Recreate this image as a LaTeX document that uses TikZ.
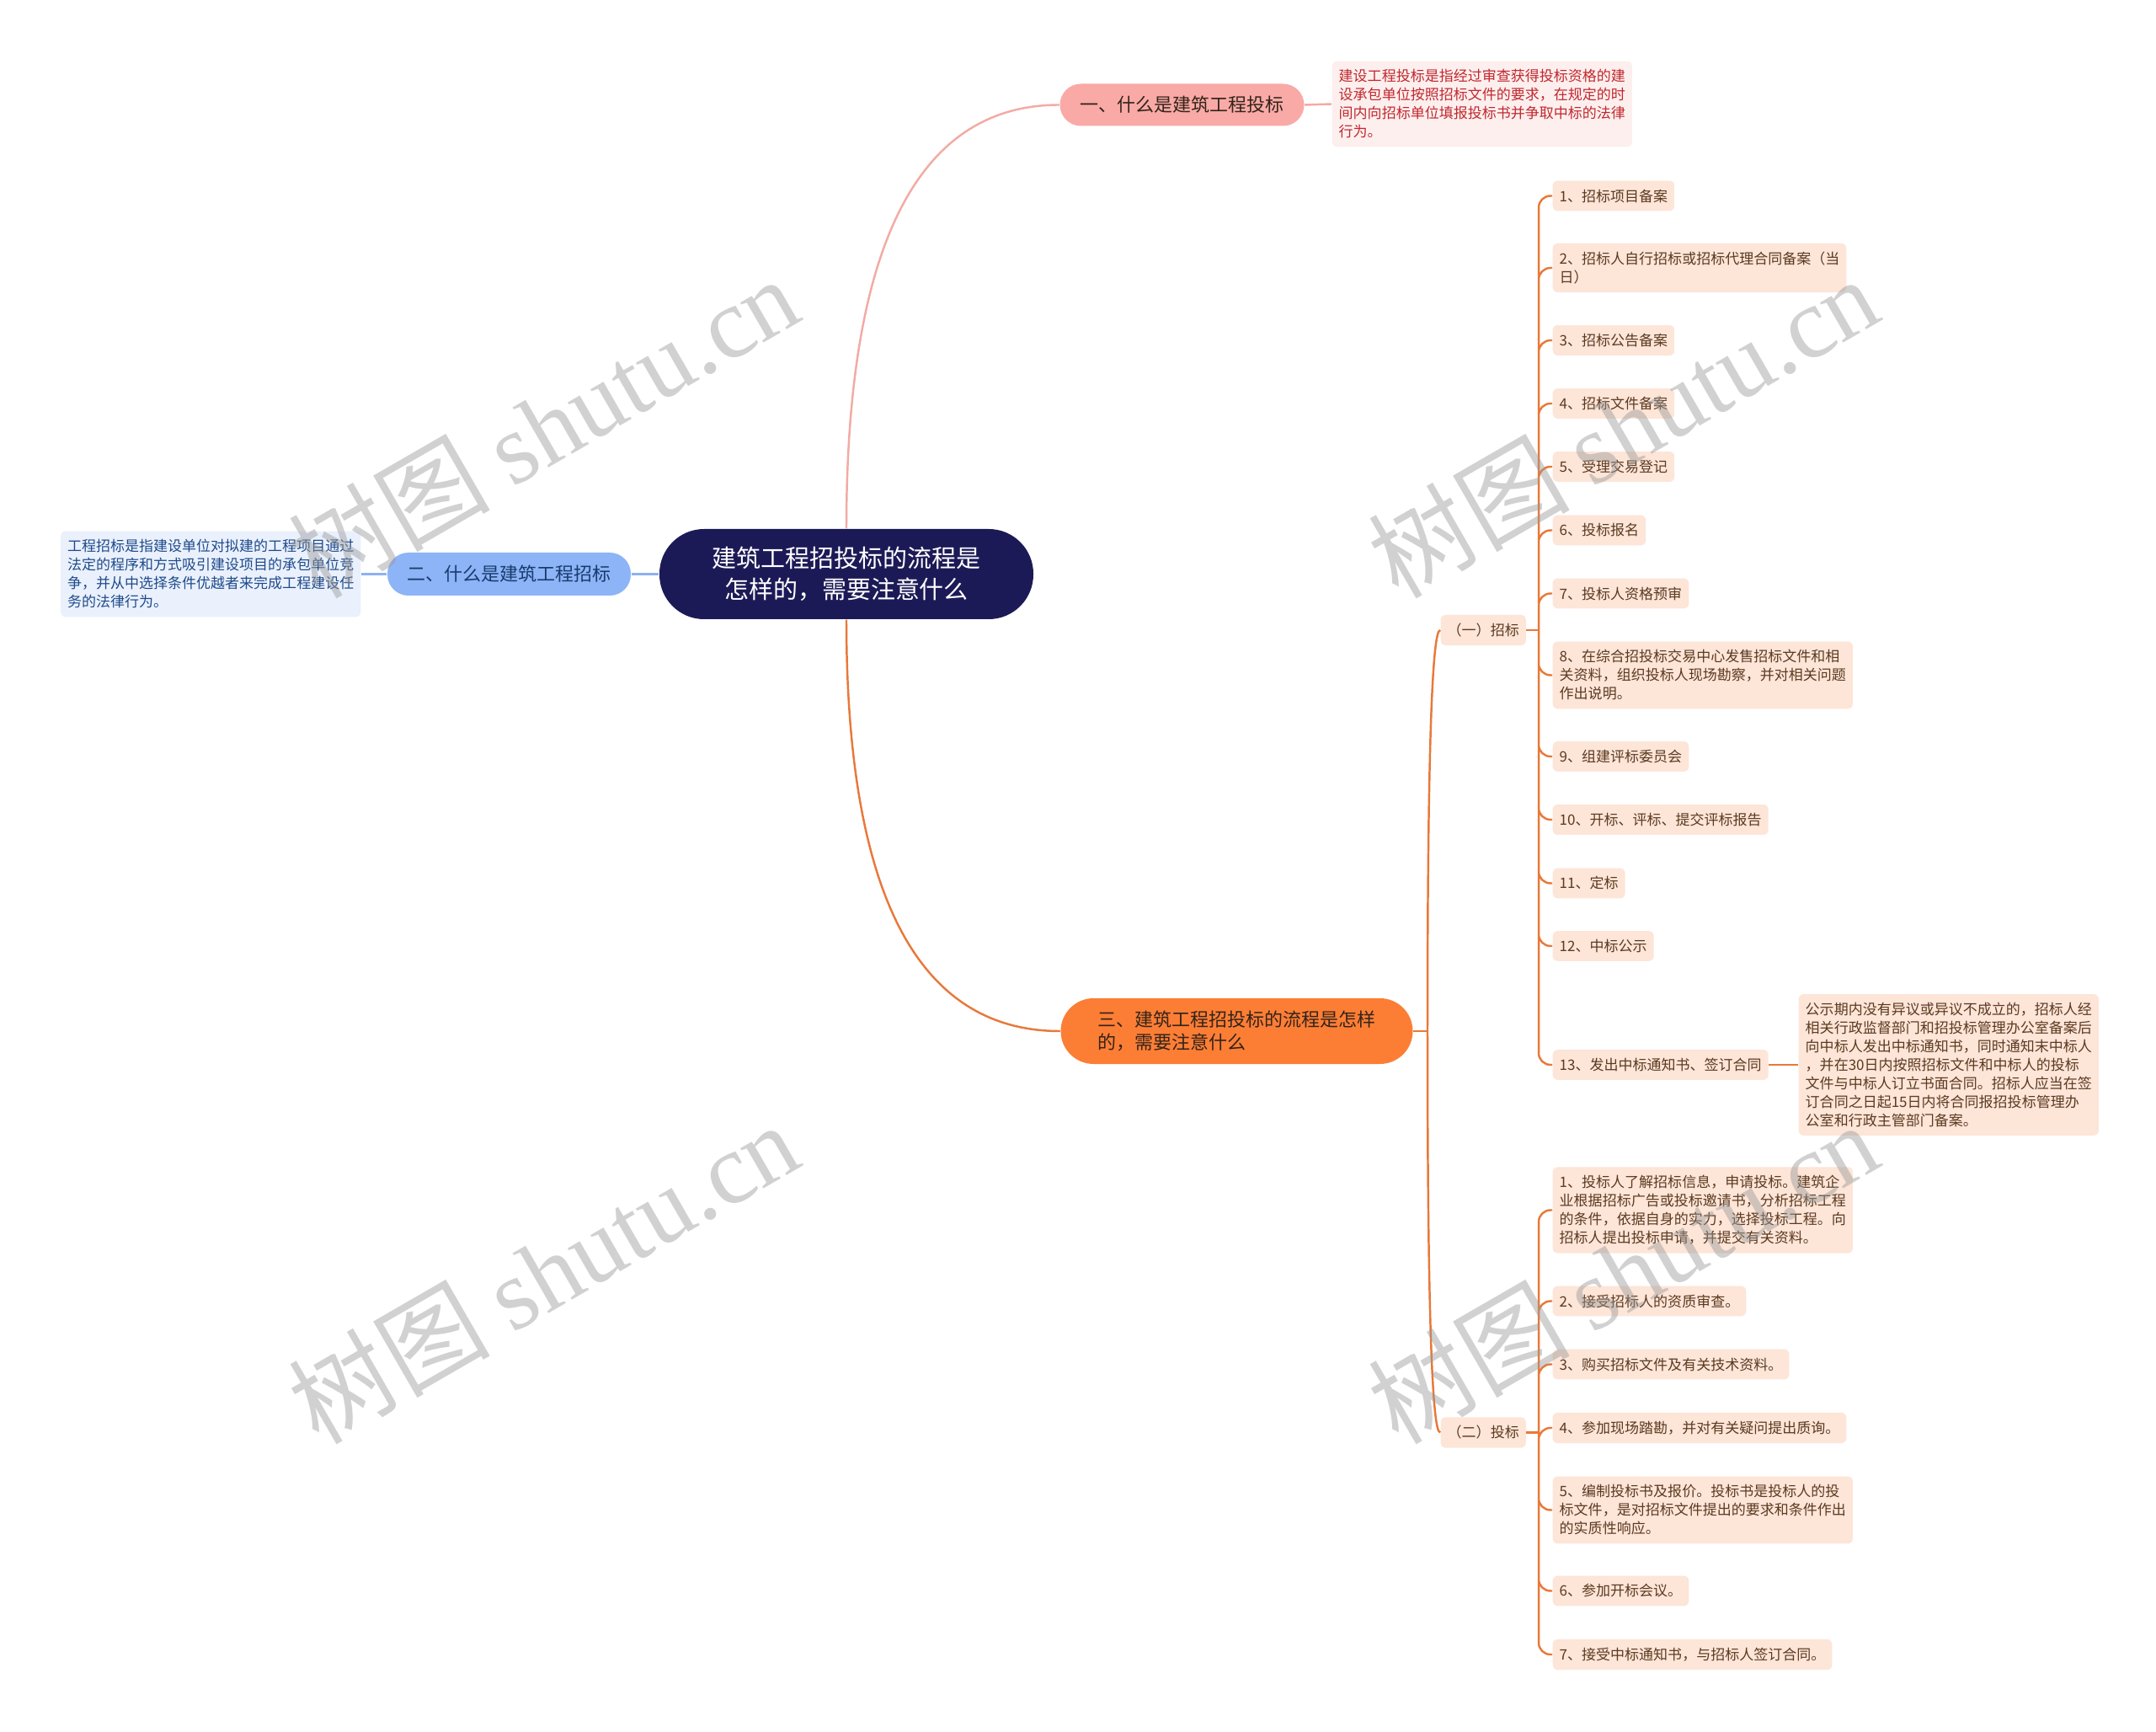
\documentclass[tikz,border=0pt]{standalone}
\usepackage{fontspec}
\setmainfont{Noto Sans CJK SC}
\newfontfamily\markfont{Liberation Serif}
\usepackage{xcolor}
\usepackage{tikz}
\usetikzlibrary{positioning,calc}

\definecolor{rootnavy}{HTML}{1C1A56}
\definecolor{pinkfill}{HTML}{F9AAA6}
\definecolor{pinkline}{HTML}{F2ABA4}
\definecolor{pinkpale}{HTML}{FDEFEE}
\definecolor{notered}{HTML}{C0282E}
\definecolor{bluefill}{HTML}{8DB4F6}
\definecolor{blueline}{HTML}{8CB2F0}
\definecolor{bluepale}{HTML}{EAF1FD}
\definecolor{noteblue}{HTML}{1E4A8A}
\definecolor{orangefill}{HTML}{FC7E35}
\definecolor{orangeline}{HTML}{E8793A}
\definecolor{peach}{HTML}{FDE5D8}
\definecolor{leafbrown}{HTML}{5B3A20}
\definecolor{topicdark}{HTML}{33231A}

\newcommand{\leaffont}{\fontsize{4.84}{6.26}\selectfont}
\newcommand{\topicfont}{\fontsize{6.26}{7.68}\selectfont}
\newcommand{\rootfont}{\fontsize{8.25}{10.53}\selectfont}

\begin{document}
\begin{tikzpicture}[y=-1cm,
  topic/.style={inner sep=0pt,align=left,font=\topicfont,text=topicdark},
  leaf/.style={anchor=west,fill=peach,text=leafbrown,rounded corners=0.06cm,
    inner xsep=0.08cm,inner ysep=0.1cm,align=left,font=\leaffont},
  note/.style={rounded corners=0.06cm,inner xsep=0.08cm,inner ysep=0.1cm,
    align=left,font=\leaffont},
  link/.style={line width=0.7pt},
  branchcurve/.style={to path={.. controls ($(\tikztostart)!2/3!(\tikztostart |- \tikztotarget)$)
    and ($(\tikztotarget)!2/3!(\tikztostart |- \tikztotarget)$) .. (\tikztotarget)}},
  stamp/.style={rotate=30,text=black!40,text opacity=0.45,font=\fontsize{34}{34}\selectfont}]
  \fill[white] (0,0) rectangle (25.6,20.56);

  % centre and the three questions
  \node[fill=rootnavy,text=white,rounded corners=0.53cm,minimum width=4.44cm,
    minimum height=1.07cm,align=center,font=\rootfont] (root)
    at (10.05,6.815) {建筑工程招投标的流程是\\怎样的，需要注意什么};
  \node[topic,fill=pinkfill,rounded corners=0.25cm,minimum width=2.9cm,minimum height=0.5cm] (bidq)
    at (14.035,1.245) {一、什么是建筑工程投标};
  \node[topic,fill=bluefill,text=noteblue!80!black,rounded corners=0.25cm,minimum width=2.89cm,
    minimum height=0.51cm] (tenderq) at (6.045,6.815) {二、什么是建筑工程招标};
  \node[topic,fill=orangefill,rounded corners=0.39cm,minimum width=4.18cm,minimum height=0.78cm] (flowq)
    at (14.685,12.24) {三、建筑工程招投标的流程是怎样\\的，需要注意什么};

  \node[note,fill=pinkpale,text=notered,anchor=west] (biddef) at (15.81,1.235)
    {建设工程投标是指经过审查获得投标资格的建\\设承包单位按照招标文件的要求，在规定的时\\间内向招标单位填报投标书并争取中标的法律\\行为。};
  \node[note,fill=bluepale,text=noteblue,anchor=east] (tenderdef) at (4.29,6.815)
    {工程招标是指建设单位对拟建的工程项目通过\\法定的程序和方式吸引建设项目的承包单位竞\\争，并从中选择条件优越者来完成工程建设任\\务的法律行为。};

  \node[leaf] (tender) at (17.10,7.48) {（一）招标};
  \node[leaf] (bid) at (17.10,17.005) {（二）投标};

  % (一) tendering steps
  \node[leaf] (s1) at (18.43,2.325) {1、招标项目备案};
  \node[leaf] (s2) at (18.43,3.18) {2、招标人自行招标或招标代理合同备案（当\\日）};
  \node[leaf] (s3) at (18.43,4.04) {3、招标公告备案};
  \node[leaf] (s4) at (18.43,4.79) {4、招标文件备案};
  \node[leaf] (s5) at (18.43,5.54) {5、受理交易登记};
  \node[leaf] (s6) at (18.43,6.295) {6、投标报名};
  \node[leaf] (s7) at (18.43,7.045) {7、投标人资格预审};
  \node[leaf] (s8) at (18.43,8.015)
    {8、在综合招投标交易中心发售招标文件和相\\关资料，组织投标人现场勘察，并对相关问题\\作出说明。};
  \node[leaf] (s9) at (18.43,8.98) {9、组建评标委员会};
  \node[leaf] (s10) at (18.43,9.73) {10、开标、评标、提交评标报告};
  \node[leaf] (s11) at (18.43,10.485) {11、定标};
  \node[leaf] (s12) at (18.43,11.23) {12、中标公示};
  \node[leaf] (s13) at (18.43,12.64) {13、发出中标通知书、签订合同};
  \node[leaf] (s13def) at (21.35,12.64)
    {公示期内没有异议或异议不成立的，招标人经\\相关行政监督部门和招投标管理办公室备案后\\向中标人发出中标通知书，同时通知末中标人\\，并在30日内按照招标文件和中标人的投标\\文件与中标人订立书面合同。招标人应当在签\\订合同之日起15日内将合同报招投标管理办\\公室和行政主管部门备案。};

  % (二) bidding steps
  \node[leaf] (b1) at (18.43,14.365)
    {1、投标人了解招标信息，申请投标。建筑企\\业根据招标广告或投标邀请书，分析招标工程\\的条件，依据自身的实力，选择投标工程。向\\招标人提出投标申请，并提交有关资料。};
  \node[leaf] (b2) at (18.43,15.445) {2、接受招标人的资质审查。};
  \node[leaf] (b3) at (18.43,16.195) {3、购买招标文件及有关技术资料。};
  \node[leaf] (b4) at (18.43,16.95) {4、参加现场踏勘，并对有关疑问提出质询。};
  \node[leaf] (b5) at (18.43,17.925)
    {5、编制投标书及报价。投标书是投标人的投\\标文件，是对招标文件提出的要求和条件作出\\的实质性响应。};
  \node[leaf] (b6) at (18.43,18.885) {6、参加开标会议。};
  \node[leaf] (b7) at (18.43,19.64) {7、接受中标通知书，与招标人签订合同。};

  % connectors
  \draw[link,pinkline] (root.north) to[branchcurve] (bidq.west);
  \draw[link,pinkline] (bidq.east) -- (biddef.west);
  \draw[link,blueline] (root.west) -- (tenderq.east);
  \draw[link,blueline] (tenderq.west) -- (tenderdef.east);
  \draw[link,orangeline] (root.south) to[branchcurve] (flowq.west);

  \coordinate (fj) at (16.95,12.24);
  \draw[link,orangeline] (flowq.east) -- (fj);
  \draw[link,orangeline] (fj) to[branchcurve] (tender.west);
  \draw[link,orangeline] (fj) to[branchcurve] (bid.west);

  \coordinate (tj) at (18.27,7.48);
  \coordinate (bj) at (18.27,17.005);
  \draw[link,orangeline] (tender.east) -- (tj);
  \draw[link,orangeline] (bid.east) -- (bj);
  \draw[link,orangeline,rounded corners=0.14cm]
    (tj) |- (s1.west) (tj) |- (s2.west) (tj) |- (s3.west) (tj) |- (s4.west)
    (tj) |- (s5.west) (tj) |- (s6.west) (tj) |- (s7.west) (tj) |- (s8.west)
    (tj) |- (s9.west) (tj) |- (s10.west) (tj) |- (s11.west) (tj) |- (s12.west)
    (tj) |- (s13.west);
  \draw[link,orangeline] (s13.east) -- (s13def.west);
  \draw[link,orangeline,rounded corners=0.14cm]
    (bj) |- (b1.west) (bj) |- (b2.west) (bj) |- (b3.west) (bj) |- (b4.west)
    (bj) |- (b5.west) (bj) |- (b6.west) (bj) |- (b7.west);

  % watermarks
  \node[stamp] (wm1) at (6.45,5.06) {树图 {\markfont shutu.cn}};
  \node[stamp] (wm2) at (6.45,15.1) {树图 {\markfont shutu.cn}};
  \node[stamp] (wm3) at (19.27,5.06) {树图 {\markfont shutu.cn}};
  \node[stamp] (wm4) at (19.27,15.1) {树图 {\markfont shutu.cn}};
\end{tikzpicture}
\end{document}
